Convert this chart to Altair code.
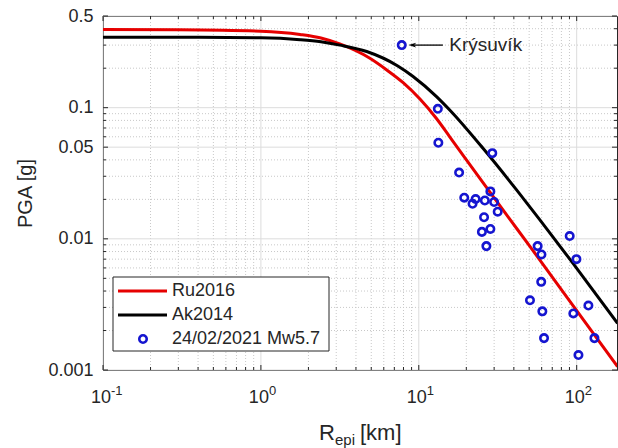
import altair as alt
import pandas as pd

# ---------------- data ----------------
ru_r = [0.1, 0.3, 1.0, 1.77, 2.4, 3.16, 4.9, 6.3, 7.96, 12.9, 15.7, 25.5, 35.9, 50.4, 94.8, 181.5]
ru_pga = [0.394, 0.392, 0.383, 0.362, 0.340, 0.306, 0.238, 0.193, 0.155, 0.083, 0.060, 0.0268, 0.0153, 0.0088, 0.0031, 0.00106]

ak_r = [0.1, 0.3, 1.0, 1.77, 2.4, 3.16, 4.68, 7.36, 9.2, 12.9, 15.7, 25.5, 41.5, 58.3, 94.8, 181.5]
ak_pga = [0.344, 0.344, 0.341, 0.330, 0.318, 0.300, 0.268, 0.208, 0.173, 0.122, 0.096, 0.049, 0.0237, 0.0140, 0.0065, 0.00227]

obs_r = [7.8, 13.2, 13.3, 29.2, 18.0, 28.4, 19.4, 22.9, 21.9, 26.2, 30.0, 31.6, 25.9, 28.4,
         25.1, 26.8, 56.6, 59.8, 59.6, 50.6, 60.6, 62.1, 90.3, 99.6, 118.6, 95.2, 129.5, 102.6]
obs_pga = [0.30, 0.098, 0.054, 0.045, 0.032, 0.023, 0.0206, 0.0201, 0.0185, 0.0196, 0.0191, 0.0161, 0.0146, 0.0119,
           0.0113, 0.0088, 0.0088, 0.0076, 0.0047, 0.0034, 0.0028, 0.00175, 0.0105, 0.0070, 0.0031, 0.0027, 0.00175, 0.0013]

# annotation (Krýsuvík)
ann_label = "Krýsuvík"
ann_pga = [0.30]
ann_arrow_from = [14.2]
ann_arrow_to = [9.1]
ann_text_r = [15.6]

# axis ticks / grid
x_major = [0.1, 1, 10, 100]
x_exp = ["-1", "0", "1", "2"]
x_minor = [0.2, 0.3, 0.4, 0.5, 0.6, 0.7, 0.8, 0.9,
           2, 3, 4, 5, 6, 7, 8, 9,
           20, 30, 40, 50, 60, 70, 80, 90]
y_major = [0.001, 0.01, 0.05, 0.1, 0.5]
y_minor = [0.002, 0.003, 0.004, 0.005, 0.006, 0.007, 0.008, 0.009,
           0.02, 0.03, 0.04, 0.06, 0.07, 0.08, 0.09,
           0.2, 0.3, 0.4]

legend_labels = ["Ru2016", "Ak2014", "24/02/2021 Mw5.7"]

# ---------------- styling ----------------
W, H = 514, 354
FONT = "Liberation Sans"
AX = "#262626"
RED = "#e60000"
BLUE = "#1515d0"

xs = alt.Scale(type="log", domain=[0.1, 180], nice=False)
ys = alt.Scale(type="log", domain=[0.001, 0.5], nice=False)

ru = pd.DataFrame({"r": ru_r, "pga": ru_pga})
ak = pd.DataFrame({"r": ak_r, "pga": ak_pga})
obs = pd.DataFrame({"r": obs_r, "pga": obs_pga})
xmaj = pd.DataFrame({"r": x_major, "e": x_exp})
xmin_ = pd.DataFrame({"r": x_minor})
ymaj = pd.DataFrame({"pga": y_major})
ymin_ = pd.DataFrame({"pga": y_minor})
ann = pd.DataFrame({"r": ann_arrow_from, "r2": ann_arrow_to, "rt": ann_text_r, "pga": ann_pga, "t": [ann_label]})
one = pd.DataFrame({"k": [0]})

yaxis = alt.Axis(values=y_major, format="~g", grid=False, ticks=False, domain=False,
                 labelFont=FONT, labelFontSize=18, labelColor=AX, labelPadding=10,
                 title="PGA [g]", titleFont=FONT, titleFontSize=20, titleFontWeight="normal",
                 titleColor=AX, titlePadding=12)

Xn = lambda f="r": alt.X(f"{f}:Q", scale=xs, axis=None)
Yn = lambda f="pga": alt.Y(f"{f}:Q", scale=ys, axis=yaxis)

# grids
gx_min = alt.Chart(xmin_).mark_rule(color="#c8c8c8", strokeWidth=1, strokeDash=[1, 2]).encode(x=Xn())
gy_min = alt.Chart(ymin_).mark_rule(color="#c8c8c8", strokeWidth=1, strokeDash=[1, 2]).encode(y=Yn())
gx_maj = alt.Chart(xmaj).mark_rule(color="#dcdcdc", strokeWidth=1).encode(x=Xn())
gy_maj = alt.Chart(ymaj).mark_rule(color="#dcdcdc", strokeWidth=1).encode(y=Yn())

# inward ticks
tk = []
for df, ln in ((xmaj, 5), (xmin_, 3)):
    tk.append(alt.Chart(df).mark_rule(color=AX, strokeWidth=1).encode(x=Xn(), y=alt.value(H), y2=alt.value(H - ln)))
    tk.append(alt.Chart(df).mark_rule(color=AX, strokeWidth=1).encode(x=Xn(), y=alt.value(0), y2=alt.value(ln)))
for df, ln in ((ymaj, 5), (ymin_, 3)):
    tk.append(alt.Chart(df).mark_rule(color=AX, strokeWidth=1).encode(y=Yn(), x=alt.value(0), x2=alt.value(ln)))
    tk.append(alt.Chart(df).mark_rule(color=AX, strokeWidth=1).encode(y=Yn(), x=alt.value(W), x2=alt.value(W - ln)))

# curves
ru_line = alt.Chart(ru).mark_line(color=RED, strokeWidth=3, clip=True, interpolate="monotone").encode(
    x=Xn(), y=Yn())
ak_line = alt.Chart(ak).mark_line(color="#000000", strokeWidth=3, clip=True, interpolate="monotone").encode(
    x=Xn(), y=Yn())

pts = alt.Chart(obs).mark_point(shape="circle", filled=False, color=BLUE, strokeWidth=2.6, size=55,
                                opacity=1, clip=True).encode(x=Xn(), y=Yn())

# annotation
arrow_line = alt.Chart(ann).mark_rule(color="#000000", strokeWidth=1.3).encode(x=Xn("r"), x2="r2:Q", y=Yn())
arrow_head = alt.Chart(ann).mark_point(shape="M -1 0 L 1 -0.6 L 0.45 0 L 1 0.6 Z", filled=True, color="#000000",
                                       size=60, opacity=1).encode(x=Xn("r2"), y=Yn())
ann_text = alt.Chart(ann).mark_text(font=FONT, fontSize=19, color=AX, align="left", baseline="middle").encode(
    x=Xn("rt"), y=Yn(), text="t:N")

# x tick labels 10^n
xl_base = alt.Chart(xmaj).mark_text(text="10", font=FONT, fontSize=18, color=AX, align="right",
                                    baseline="alphabetic", dx=8).encode(x=Xn(), y=alt.value(H + 33))
xl_exp = alt.Chart(xmaj).mark_text(font=FONT, fontSize=13, color=AX, align="left",
                                   baseline="alphabetic", dx=8).encode(x=Xn(), y=alt.value(H + 25), text="e:N")

# x axis title R_epi [km]
tx_R = alt.Chart(one).mark_text(text="R", font=FONT, fontSize=22, color=AX, align="left",
                                baseline="alphabetic").encode(x=alt.value(216), y=alt.value(424))
tx_sub = alt.Chart(one).mark_text(text="epi", font=FONT, fontSize=15, color=AX, align="left",
                                  baseline="alphabetic").encode(x=alt.value(232), y=alt.value(429))
tx_km = alt.Chart(one).mark_text(text="[km]", font=FONT, fontSize=22, color=AX, align="left",
                                 baseline="alphabetic").encode(x=alt.value(257), y=alt.value(424))

# legend (manual box)
lg_box = alt.Chart(one).mark_rect(fill="white", stroke=AX, strokeWidth=1).encode(
    x=alt.value(10), x2=alt.value(226), y=alt.value(261), y2=alt.value(335))
rows = [275, 299, 323]
lg = [lg_box]
lg.append(alt.Chart(one).mark_rule(color=RED, strokeWidth=3).encode(
    x=alt.value(15), x2=alt.value(64), y=alt.value(rows[0])))
lg.append(alt.Chart(one).mark_rule(color="#000000", strokeWidth=3).encode(
    x=alt.value(15), x2=alt.value(64), y=alt.value(rows[1])))
lg.append(alt.Chart(one).mark_point(shape="circle", filled=False, color=BLUE, strokeWidth=2.6, size=55,
                                    opacity=1).encode(x=alt.value(40), y=alt.value(rows[2])))
for lab, ry in zip(legend_labels, rows):
    lg.append(alt.Chart(one).mark_text(text=lab, font=FONT, fontSize=18, color=AX, align="left",
                                       baseline="middle").encode(x=alt.value(69), y=alt.value(ry)))

chart = alt.layer(
    gx_min, gy_min, gx_maj, gy_maj, *tk,
    ru_line, ak_line, pts, arrow_line, arrow_head, ann_text,
    xl_base, xl_exp, tx_R, tx_sub, tx_km, *lg
).properties(
    width=W, height=H,
    autosize=alt.AutoSizeParams(type="none"),
    padding={"left": 103, "top": 16, "right": 1, "bottom": 78},
    background="white",
).configure_view(stroke=AX, strokeWidth=1)

chart.save("out.html", embed_options={"renderer": "svg", "actions": False})
